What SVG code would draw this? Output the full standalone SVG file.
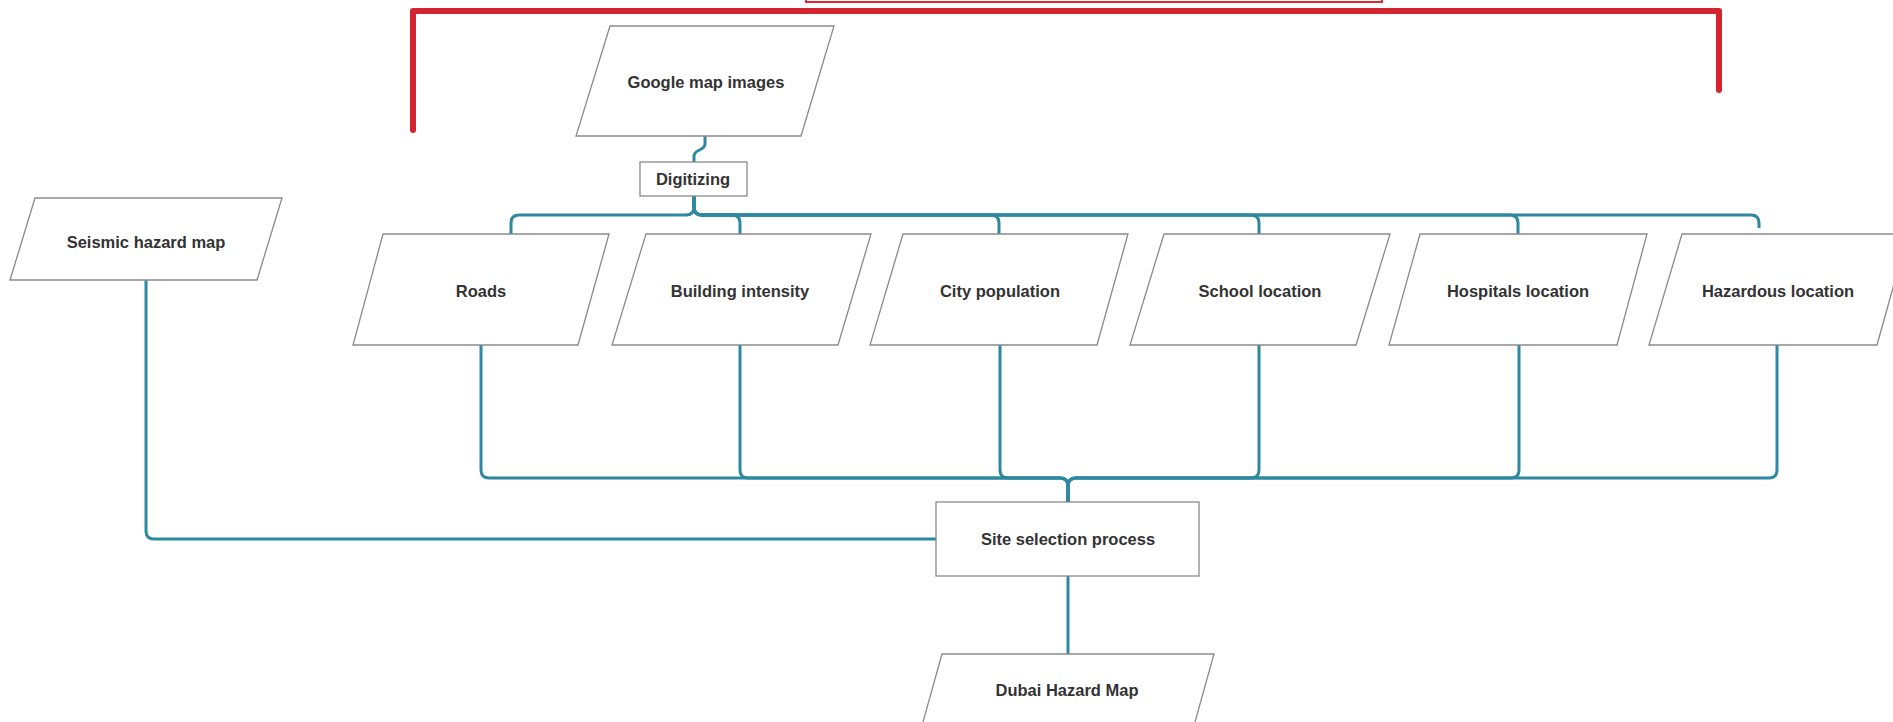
<svg xmlns="http://www.w3.org/2000/svg" width="1893" height="722" viewBox="0 0 1893 722">
<style>
.n{fill:#fff;stroke:#8a8a8a;stroke-width:1.3}
.t{font-family:"Liberation Sans",Arial,sans-serif;font-weight:bold;font-size:16.5px;fill:#333;text-anchor:middle}
.c{fill:none;stroke:#2d88a0;stroke-width:3;stroke-linejoin:round}
.r{fill:none;stroke:#d42430;stroke-width:6;stroke-linecap:round;stroke-linejoin:round}
</style>
<rect width="1893" height="722" fill="#fff"/>
<g id="bracket">
<path class="r" d="M413,130 V11 H1719 V90"/>
<rect x="806" y="-10" width="576" height="12" fill="none" stroke="#e0262f" stroke-width="2"/>
</g>
<g id="connectors">
<path class="c" d="M705,136 V144 C705,151 694,149 694,156 V162"/>
<path class="c" d="M694,196 V207 Q694,215 686,215 H519 Q511,215 511,223 V234"/>
<path class="c" d="M694,196 V207 Q694,215 702,215 H732 Q740,215 740,223 V234"/>
<path class="c" d="M694,196 V207 Q694,215 702,215 H991 Q999,215 999,223 V234"/>
<path class="c" d="M694,196 V207 Q694,215 702,215 H1251 Q1259,215 1259,223 V234"/>
<path class="c" d="M694,196 V207 Q694,215 702,215 H1510 Q1518,215 1518,223 V234"/>
<path class="c" d="M694,196 V207 Q694,215 702,215 H1751 Q1759,215 1759,223 V228"/>
<path class="c" d="M481,345 V470 Q481,478 489,478 H1060 Q1068,478 1068,486 V502"/>
<path class="c" d="M740,345 V470 Q740,478 748,478 H1060 Q1068,478 1068,486 V502"/>
<path class="c" d="M1000,345 V470 Q1000,478 1008,478 H1060 Q1068,478 1068,486 V502"/>
<path class="c" d="M1259,345 V470 Q1259,478 1251,478 H1076 Q1068,478 1068,486 V502"/>
<path class="c" d="M1519,345 V470 Q1519,478 1511,478 H1076 Q1068,478 1068,486 V502"/>
<path class="c" d="M1777,345 V470 Q1777,478 1769,478 H1076 Q1068,478 1068,486 V502"/>
<path class="c" d="M146,280 V531 Q146,539 154,539 H936"/>
<path class="c" d="M1068,576 V654"/>
</g>
<g id="google"><polygon class="n" points="610,26 834,26 801,136 576,136"/><text class="t" x="706" y="88">Google map images</text></g>
<g id="digitizing"><rect class="n" x="640" y="162" width="107" height="34"/><text class="t" x="693" y="185">Digitizing</text></g>
<g id="seismic"><polygon class="n" points="35,198 282,198 257,280 10,280"/><text class="t" x="146" y="248">Seismic hazard map</text></g>
<g id="roads"><polygon class="n" points="383,234 609,234 578,345 353,345"/><text class="t" x="481" y="297">Roads</text></g>
<g id="building"><polygon class="n" points="646,234 871,234 838,345 612,345"/><text class="t" x="740" y="297">Building intensity</text></g>
<g id="city"><polygon class="n" points="903,234 1128,234 1097,345 870,345"/><text class="t" x="1000" y="297">City population</text></g>
<g id="school"><polygon class="n" points="1164,234 1390,234 1356,345 1130,345"/><text class="t" x="1260" y="297">School location</text></g>
<g id="hospitals"><polygon class="n" points="1420,234 1647,234 1617,345 1389,345"/><text class="t" x="1518" y="297">Hospitals location</text></g>
<g id="hazardous"><polygon class="n" points="1682,234 1908,234 1877,345 1649,345"/><text class="t" x="1778" y="297">Hazardous location</text></g>
<g id="site"><rect class="n" x="936" y="502" width="263" height="74"/><text class="t" x="1068" y="545">Site selection process</text></g>
<g id="dubai"><polygon class="n" points="942,654 1214,654 1183,765 911,765"/><text class="t" x="1067" y="696">Dubai Hazard Map</text></g>
</svg>
